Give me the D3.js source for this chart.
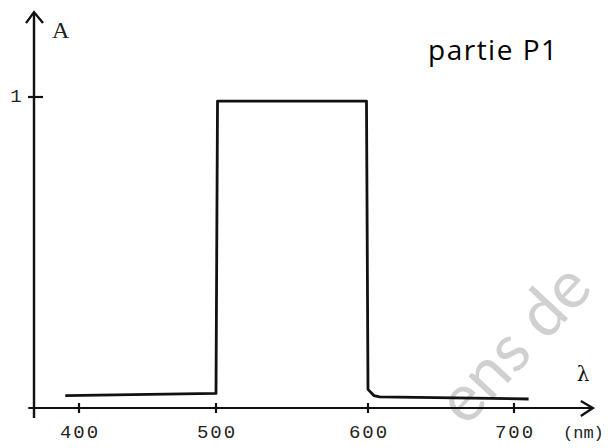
<!DOCTYPE html>
<html><head><meta charset="utf-8">
<script src="https://cdn.jsdelivr.net/npm/d3@7"></script>
<style>html,body{margin:0;padding:0;background:#fff;}svg{display:block;}</style>
</head><body>
<script>
// ---- data ----
const lambdaTicks = [400, 500, 600, 700];
const absTicks = [1];
const wavelengths = [390, 500, 501, 599, 600, 604, 608, 710];
const absorbance  = [0.040, 0.047, 0.987, 0.987, 0.060, 0.040, 0.036, 0.029];
const title = "partie P1";
const yLabel = "A";
const xLabel = "λ";
const xUnit = "(nm)";

const W = 615, H = 448;
const svg = d3.select("body").append("svg").attr("width", W).attr("height", H);

// scales (scanned axis is slightly uneven -> polylinear)
const x = d3.scaleLinear().domain([400, 500, 600, 700]).range([79, 216, 368, 514]);
const y = d3.scaleLinear().domain([0, 1]).range([408, 97]);

// watermark
svg.append("text").attr("fill", "#d0d0d0").attr("font-family", "Lato, 'Noto Sans', sans-serif")
  .attr("font-size", 66)
  .attr("transform", "translate(466,428) rotate(-47)").text("ens de");

const ink = "#111";
// x axis
const xMin = 363, xMax = 754;
svg.append("line").attr("x1", x(xMin)).attr("x2", x(xMax) - 1).attr("y1", y(0)).attr("y2", y(0))
  .attr("stroke", ink).attr("stroke-width", 2.2);
svg.append("path")
  .attr("d", `M${x(xMax) - 12},${y(0) - 7} L${x(xMax)},${y(0)} L${x(xMax) - 12},${y(0) + 8}`)
  .attr("fill", "none").attr("stroke", ink).attr("stroke-width", 2.4).attr("stroke-linejoin", "miter");
// y axis
const yMin = -0.032, yMax = 1.273;
svg.append("line").attr("x1", 34).attr("x2", 34).attr("y1", y(yMin)).attr("y2", y(yMax) + 1)
  .attr("stroke", ink).attr("stroke-width", 2.4);
svg.append("path")
  .attr("d", `M26,${y(yMax) + 11} L34,${y(yMax)} L43,${y(yMax) + 11}`)
  .attr("fill", "none").attr("stroke", ink).attr("stroke-width", 2.4);

// x ticks
const xt = svg.append("g").selectAll("g").data(lambdaTicks).join("g")
  .attr("transform", d => `translate(${x(d)},${y(0)})`);
xt.append("line").attr("y1", -5).attr("y2", 5).attr("stroke", ink).attr("stroke-width", 2.2);
xt.append("text").attr("y", 30).attr("text-anchor", "middle")
  .attr("font-family", "'Liberation Mono', monospace").attr("font-size", 19)
  .attr("letter-spacing", 2).attr("fill", "#222").attr("dx", 1).text(d => d);

// y ticks
const yt = svg.append("g").selectAll("g").data(absTicks).join("g")
  .attr("transform", d => `translate(34,${y(d)})`);
yt.append("line").attr("x1", -6).attr("x2", 9).attr("stroke", ink).attr("stroke-width", 2.2);
yt.append("text").attr("x", -18).attr("y", 5).attr("text-anchor", "middle")
  .attr("font-family", "'Liberation Mono', monospace").attr("font-size", 19).attr("fill", "#222").text(d => d);

// curve
const pts = wavelengths.map((w, i) => [w, absorbance[i]]);
svg.append("path").datum(pts)
  .attr("d", d3.line().x(d => x(d[0])).y(d => y(d[1])).curve(d3.curveLinear))
  .attr("fill", "none").attr("stroke", ink).attr("stroke-width", 2.8)
  .attr("stroke-linejoin", "round").attr("stroke-linecap", "butt");

// labels
svg.append("text").attr("x", 52).attr("y", 38).attr("font-family", "'Liberation Serif', serif")
  .attr("font-size", 24).attr("fill", "#222").text(yLabel);
svg.append("text").attr("x", 583).attr("y", 381).attr("text-anchor", "middle")
  .attr("font-family", "'DejaVu Serif', serif").attr("font-size", 20).attr("fill", "#111").text(xLabel);
svg.append("text").attr("x", 563).attr("y", 438).attr("font-family", "'Liberation Mono', monospace")
  .attr("font-size", 17).attr("fill", "#222").text(xUnit);
svg.append("text").attr("x", 428).attr("y", 60).attr("font-family", "'Open Sans', sans-serif")
  .attr("font-size", 28).attr("letter-spacing", 1.5).attr("fill", "#000").text(title);
</script>
</body></html>
